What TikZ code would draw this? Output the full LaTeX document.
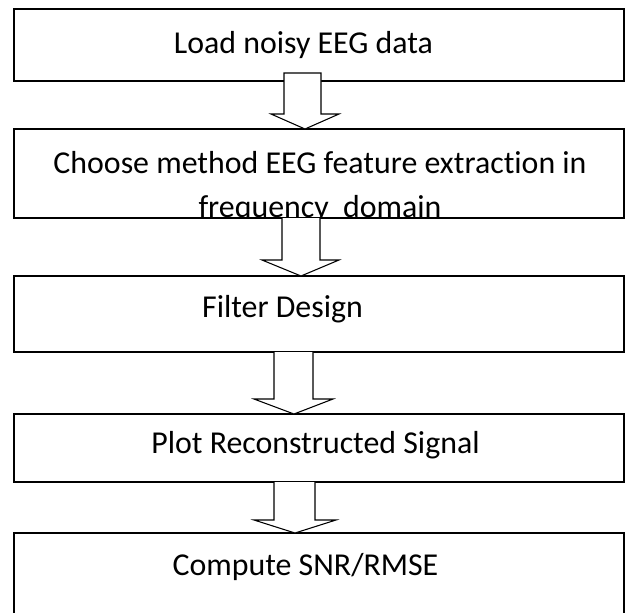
\documentclass[tikz,border=0pt]{standalone}
\usepackage{fontspec}
\setmainfont{Carlito}[Ligatures=NoCommon]
\begin{document}
\begin{tikzpicture}[x=0.75pt,y=-0.75pt,
  box/.style={draw, line width=1.1pt, rectangle, inner sep=0pt, outer sep=0pt, minimum width=457.5pt},
  lbl/.style={font=\fontsize{23.9}{29}\selectfont, anchor=base, inner sep=0pt},
  blockarrow/.style={draw, fill=white, line width=0.8pt, line join=miter}]
\useasboundingbox (0,0) rectangle (625,612);
\clip (0,0) rectangle (625,612);
% boxes
\node[box, minimum height=54pt]    (b1) at (319,45) {};
\node[box, minimum height=66.75pt] (b2) at (319,173.5) {};
\node[box, minimum height=57pt]    (b3) at (319,314) {};
\node[box, minimum height=51pt]    (b4) at (319,448) {};
\node[box, minimum height=80.25pt] (b5) at (319,586.5) {};
% labels
\node[lbl] (t1) at (303.5,53) {Load noisy EEG data};
\begin{scope}
  \clip (b2.north west) rectangle ([yshift=0.5pt]b2.south east);
  \node[lbl] (t2a) at (320,173) {Choose method EEG feature extraction in};
  \node[lbl] (t2b) at (320,217) {frequency\ \ domain};
\end{scope}
\node[lbl] (t3) at (282.5,317) {Filter Design};
\node[lbl] (t4) at (315.5,453) {Plot Reconstructed Signal};
\node[lbl] (t5) at (305.5,575) {Compute SNR/RMSE};
% block arrows
\coordinate (a1top) at (0,73);
\draw[blockarrow] (284,0 |- a1top) -- (284,114) -- (271,114) -- (305,0 |- b2.north)
  -- (339,114) -- (321,114) -- (321,0 |- a1top) -- cycle;
\draw[blockarrow] (282,0 |- b2.south) -- (282,260) -- (262,260) -- (301,0 |- b3.north)
  -- (339,260) -- (320,260) -- (320,0 |- b2.south);
\draw[blockarrow] (274,0 |- b3.south) -- (274,399) -- (254,399) -- (294,0 |- b4.north)
  -- (333,399) -- (313,399) -- (313,0 |- b3.south);
\draw[blockarrow] (274,0 |- b4.south) -- (274,520) -- (254,520) -- (295,0 |- b5.north)
  -- (336,520) -- (315,520) -- (315,0 |- b4.south);
\end{tikzpicture}
\end{document}
